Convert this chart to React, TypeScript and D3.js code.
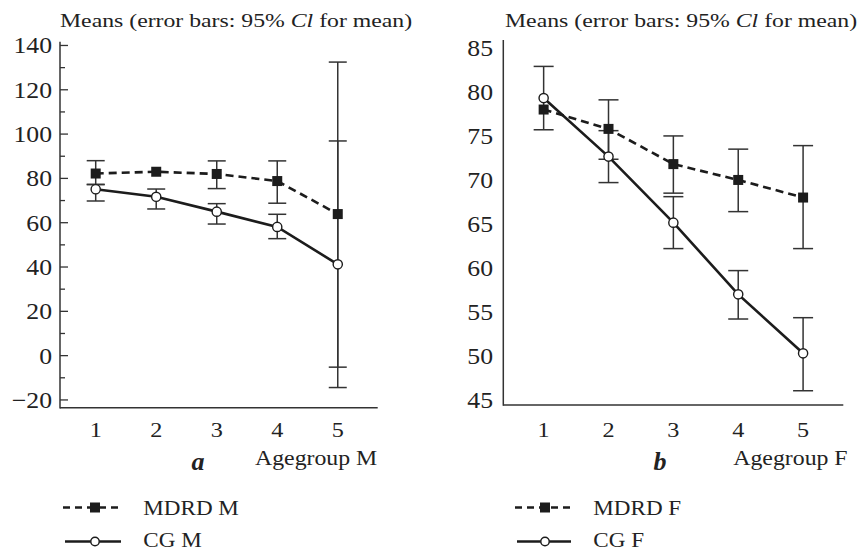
import React from "react";
import * as d3 from "d3";

const categories = [1, 2, 3, 4, 5];

// Panel a (males)
const mdrdM = [82.2, 83.0, 82.0, 78.8, 63.9];
const mdrdMLow: (number | null)[] = [77.2, null, 75.4, 68.8, -5.2];
const mdrdMHigh: (number | null)[] = [88.0, null, 87.9, 87.9, 132.5];
const cgM = [75.1, 71.7, 65.0, 58.1, 41.2];
const cgMLow: (number | null)[] = [69.8, 66.2, 59.4, 52.8, -14.4];
const cgMHigh: (number | null)[] = [77.3, 75.2, 68.6, 63.8, 96.9];

// Panel b (females)
const mdrdF = [78.0, 75.8, 71.8, 70.0, 68.0];
const mdrdFLow: (number | null)[] = [null, 72.35, 68.5, 66.4, 62.2];
const mdrdFHigh: (number | null)[] = [null, 79.1, 75.0, 73.5, 73.9];
const cgF = [79.3, 72.65, 65.15, 57.0, 50.3];
const cgFLow: (number | null)[] = [75.7, 69.7, 62.2, 54.2, 46.05];
const cgFHigh: (number | null)[] = [82.9, 75.6, 68.1, 59.7, 54.35];

const ticksM = [-20, 0, 20, 40, 60, 80, 100, 120, 140];
const minorTicksM = [-10, 10, 30, 50, 70, 90, 110, 130];
const ticksF = [45, 50, 55, 60, 65, 70, 75, 80, 85];

const INK = "#1c1c1c";
const GREY = "#333";
const FONT = "'Liberation Serif', 'Times New Roman', serif";

function T({ x, y, size, sx = 1, anchor = "start", weight = "normal", style = "normal", children }: any) {
  return (
    <text
      transform={`translate(${x},${y}) scale(${sx},1)`}
      fontSize={size}
      fontFamily={FONT}
      textAnchor={anchor}
      fontWeight={weight}
      fontStyle={style}
      fill="#222"
    >
      {children}
    </text>
  );
}

type PanelProps = {
  x0: number; x1: number; xDom: [number, number];
  yTop: number; yBot: number; yDom: [number, number];
  mdrd: number[]; mdrdLo: (number | null)[]; mdrdHi: (number | null)[];
  cg: number[]; cgLo: (number | null)[]; cgHi: (number | null)[];
  ticks: number[]; minor: number[]; showTicks: boolean; labelX: number;
  capHalf: number;
};

function Panel(p: PanelProps) {
  const x = d3.scaleLinear().domain(p.xDom).range([p.x0, p.x1]);
  const y = d3.scaleLinear().domain(p.yDom).range([p.yBot, p.yTop]);
  const line = d3.line<number>().x((_, i) => x(categories[i])).y((d) => y(d));
  const bars = (lo: (number | null)[], hi: (number | null)[], key: string) =>
    categories.map((c, i) => {
      const l = lo[i], h = hi[i];
      if (l == null || h == null) return null;
      const cx = x(c);
      return (
        <g key={key + i} stroke={GREY} strokeWidth={1.5}>
          <line x1={cx} x2={cx} y1={y(l)} y2={y(h)} />
          <line x1={cx - p.capHalf} x2={cx + p.capHalf} y1={y(l)} y2={y(l)} />
          <line x1={cx - p.capHalf} x2={cx + p.capHalf} y1={y(h)} y2={y(h)} />
        </g>
      );
    });
  return (
    <g>
      <line x1={p.x0} x2={p.x0} y1={p.yTop} y2={p.yBot + 0.75} stroke={GREY} strokeWidth={1.5} />
      <line x1={p.x0} x2={p.x1} y1={p.yBot} y2={p.yBot} stroke={GREY} strokeWidth={1.5} />
      {p.showTicks &&
        p.ticks.map((t) => (
          <line key={"t" + t} x1={p.x0} x2={p.x0 + 8} y1={y(t)} y2={y(t)} stroke={GREY} strokeWidth={1.3} />
        ))}
      {p.showTicks &&
        p.minor.map((t) => (
          <line key={"m" + t} x1={p.x0} x2={p.x0 + 5} y1={y(t)} y2={y(t)} stroke={GREY} strokeWidth={1.3} />
        ))}
      {p.ticks.map((t) => (
        <T key={"l" + t} x={p.labelX} y={y(t) + 8} size={23} sx={1.12} anchor="end">
          {t < 0 ? "\u2212" + Math.abs(t) : String(t)}
        </T>
      ))}
      {categories.map((c) => (
        <T key={"c" + c} x={x(c)} y={436.5} size={22} sx={1.1} anchor="middle">
          {String(c)}
        </T>
      ))}
      {bars(p.mdrdLo, p.mdrdHi, "md")}
      {bars(p.cgLo, p.cgHi, "cg")}
      <path d={line(p.mdrd) || ""} fill="none" stroke={INK} strokeWidth={2.6} strokeDasharray="8,5" />
      <path d={line(p.cg) || ""} fill="none" stroke={INK} strokeWidth={2.6} />
      {p.mdrd.map((v, i) => (
        <rect key={"sq" + i} x={x(categories[i]) - 5} y={y(v) - 5} width={10} height={10} fill={INK} />
      ))}
      {p.cg.map((v, i) => (
        <circle key={"ci" + i} cx={x(categories[i])} cy={y(v)} r={4.6} fill="#fff" stroke={INK} strokeWidth={1.4} />
      ))}
    </g>
  );
}

function Legend({ x0, x1, xm, tx, a, b }: any) {
  return (
    <g>
      <line x1={x0} x2={x1} y1={507.5} y2={507.5} stroke={INK} strokeWidth={2.4} strokeDasharray="7,5" />
      <rect x={xm - 5} y={502.5} width={10} height={10} fill={INK} />
      <T x={tx} y={514.5} size={22} sx={1.05}>{a}</T>
      <line x1={x0 + 2} x2={x1 - 1} y1={541.5} y2={541.5} stroke={INK} strokeWidth={2.4} />
      <circle cx={xm} cy={541.5} r={4.2} fill="#fff" stroke={INK} strokeWidth={1.4} />
      <T x={tx} y={547} size={22} sx={1.05}>{b}</T>
    </g>
  );
}

function Title({ x }: { x: number }) {
  return (
    <text transform={`translate(${x},27) scale(1.25,1)`} fontSize={19} fontFamily={FONT} fill="#222">
      <tspan>Means (error bars: 95% </tspan>
      <tspan fontStyle="italic">Cl</tspan>
      <tspan> for mean)</tspan>
    </text>
  );
}

export default function App() {
  return (
    <svg
      width={861}
      height={552}
      style={{ position: "absolute", left: 0, top: 0, background: "#fff" }}
    >
      <rect width={861} height={552} fill="#fff" />
      <Title x={60} />
      <Title x={505} />
      <Panel
        x0={60} x1={377.7} xDom={[0.41, 5.66]}
        yTop={41.7} yBot={407.7} yDom={[-23.5, 141.7]}
        mdrd={mdrdM} mdrdLo={mdrdMLow} mdrdHi={mdrdMHigh}
        cg={cgM} cgLo={cgMLow} cgHi={cgMHigh}
        ticks={ticksM} minor={minorTicksM} showTicks={true} labelX={52}
        capHalf={9}
      />
      <Panel
        x0={503.3} x1={843.3} xDom={[0.378, 5.62]}
        yTop={40} yBot={405} yDom={[44.43, 85.9]}
        mdrd={mdrdF} mdrdLo={mdrdFLow} mdrdHi={mdrdFHigh}
        cg={cgF} cgLo={cgFLow} cgHi={cgFHigh}
        ticks={ticksF} minor={[]} showTicks={false} labelX={493}
        capHalf={10}
      />
      <T x={198} y={470} size={26} anchor="middle" weight="bold" style="italic">a</T>
      <T x={255} y={465} size={20} sx={1.19}>Agegroup M</T>
      <T x={660} y={470} size={26} anchor="middle" weight="bold" style="italic">b</T>
      <T x={733.3} y={465} size={20} sx={1.19}>Agegroup F</T>
      <Legend x0={63} x1={122} xm={95} tx={143.3} a="MDRD M" b="CG M" />
      <Legend x0={515} x1={572} xm={545} tx={593.3} a="MDRD F" b="CG F" />
    </svg>
  );
}
